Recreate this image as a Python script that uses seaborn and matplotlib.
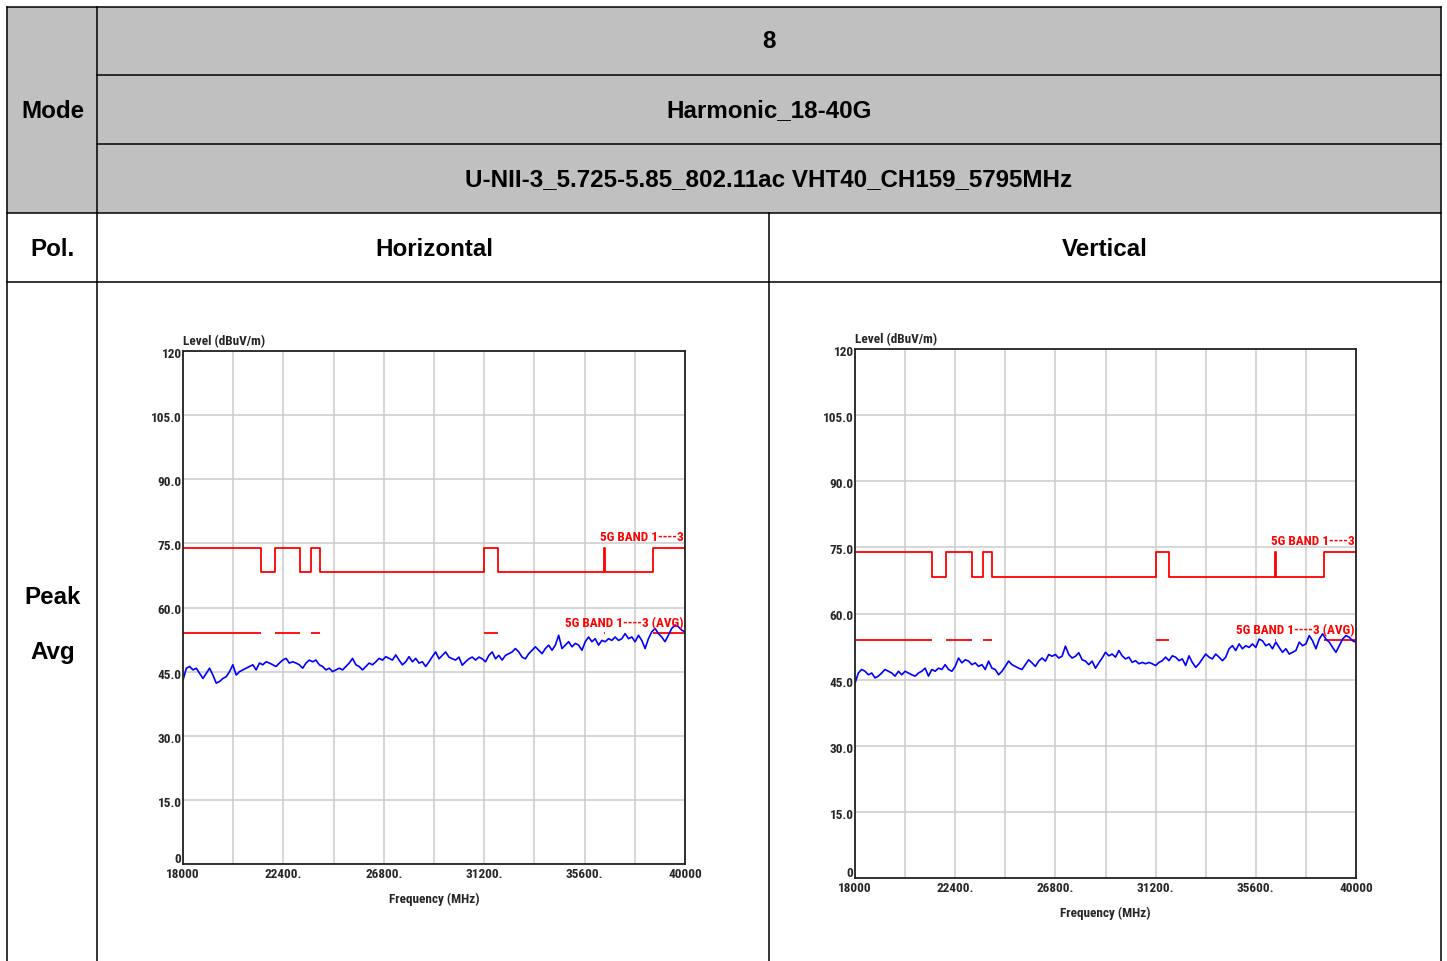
import numpy as np
import matplotlib
matplotlib.use("Agg")
import matplotlib.pyplot as plt
from matplotlib.patches import Rectangle
import matplotlib.transforms as mtransforms
import seaborn as sns

# ---- data ----
mode_rows = ["8", "Harmonic_18-40G", "U-NII-3_5.725-5.85_802.11ac VHT40_CH159_5795MHz"]
pol_names = ["Horizontal", "Vertical"]
detectors = ["Peak", "Avg"]

freq_start, freq_stop = 18000, 40000
x_ticks = [18000, 20200, 22400, 24600, 26800, 29000, 31200, 33400, 35600, 37800, 40000]
x_tick_labels = ["18000", "", "22400.", "", "26800.", "", "31200.", "", "35600.", "", "40000"]
y_ticks = [0, 15, 30, 45, 60, 75, 90, 105, 120]
y_tick_labels = ["0", "15.0", "30.0", "45.0", "60.0", "75.0", "90.0", "105.0", "120"]

restricted_bands = [(18000, 21400), (22010, 23120), (23600, 24000),
                    (31200, 31800), (36430, 36500), (38600, 40000)]
peak_limit_restricted = 74.0
peak_limit_other = 68.2
avg_limit = 54.0

level_horizontal = [
    43.0, 45.8, 46.2, 45.4, 45.8, 44.6, 43.4, 44.6, 45.8, 44.2, 42.3, 42.7, 43.4, 43.8, 45.0, 46.6,
    44.2, 45.0, 45.4, 45.8, 46.2, 46.6, 45.4, 47.0, 46.6, 47.3, 47.0, 46.6, 46.2, 47.0, 47.7, 48.1,
    47.0, 47.3, 47.0, 46.6, 45.8, 47.0, 47.7, 47.3, 47.7, 46.6, 46.2, 45.4, 45.8, 45.0, 45.4, 45.8,
    45.4, 46.2, 47.0, 48.1, 46.6, 46.2, 45.4, 46.2, 47.0, 46.6, 47.3, 48.1, 47.7, 48.5, 48.1, 47.7,
    48.9, 47.7, 46.6, 47.3, 48.5, 47.3, 48.1, 47.0, 47.3, 46.2, 47.3, 48.5,
    49.6, 48.0, 48.8, 49.6, 48.4, 48.0, 47.7, 48.4, 46.5, 47.3, 48.0, 48.4, 47.7, 48.4, 48.0, 47.3,
    48.8, 49.6, 48.0, 48.8, 47.7, 48.8, 49.2, 49.6, 50.4, 49.6, 48.4, 48.0, 49.2, 50.0, 50.8, 50.0,
    49.2, 50.4, 51.2, 50.0, 51.2, 53.5, 50.4, 51.2, 52.0, 50.8, 51.6, 51.2, 50.0, 52.0, 53.1, 52.0,
    52.7, 51.2, 52.3, 52.0, 52.7, 52.3, 53.1, 52.3, 52.7, 53.9, 52.7, 53.1, 52.0, 53.5, 52.3, 50.4,
    52.7, 54.3, 55.1, 53.9, 53.1, 52.0, 53.5, 55.1, 55.9, 55.5, 54.7, 54.3,
]

level_vertical = [
    44.2, 46.5, 47.3, 46.9, 46.1, 46.5, 45.4, 45.8, 46.5, 47.3, 46.9, 46.5, 45.8, 46.9, 46.1, 46.9,
    46.5, 46.1, 45.8, 46.5, 46.9, 47.6, 45.8, 47.3, 46.9, 47.6, 47.3, 48.4, 47.3, 46.9, 48.0, 49.9,
    48.8, 49.5, 49.2, 48.4, 48.8, 48.0, 48.4, 47.3, 49.2, 47.6, 47.3, 46.1, 46.9, 48.0, 49.2, 48.4,
    48.0, 47.6, 47.3, 48.4, 49.5, 48.8, 48.0, 49.2, 49.9, 49.2, 50.7, 50.3, 50.7, 49.9, 50.3, 52.6,
    50.7, 49.9, 50.3, 51.1, 49.5, 49.2, 48.4, 49.2, 47.6, 48.8, 49.9,
    51.2, 50.4, 50.8, 50.1, 51.6, 50.4, 49.7, 50.1, 48.9, 49.3, 48.6, 48.9, 48.6, 48.9, 48.6, 48.2,
    48.9, 49.3, 50.1, 49.3, 50.4, 50.1, 49.3, 49.7, 48.2, 50.4, 48.9, 47.8, 48.6, 49.7, 50.8, 50.1,
    49.7, 50.8, 50.1, 49.3, 50.1, 52.0, 52.7, 51.6, 53.1, 52.0, 52.7, 52.3, 53.1, 52.3, 54.2, 53.8,
    52.7, 53.1, 52.0, 53.5, 52.3, 51.2, 52.0, 50.8, 51.2, 51.6, 53.5, 52.7, 53.1, 55.0, 53.8, 52.0,
    54.2, 55.4, 54.2, 53.5, 52.3, 51.2, 52.7, 54.2, 55.0, 54.6, 53.8, 53.5,
]

W, H = 1447, 961
HEAD_FONT = ["Liberation Sans", "DejaVu Sans"]
CHART_FONT = ["Roboto Condensed", "DejaVu Sans"]
GRAY = "#C0C0C0"

sns.set_style("white")
plt.rcParams["font.family"] = HEAD_FONT

fig = plt.figure(figsize=(W / 100, H / 100), dpi=100)

# ---- table frame drawn in pixel coordinates ----
tab = fig.add_axes([0, 0, 1, 1], zorder=0)
tab.set_xlim(0, W)
tab.set_ylim(H, 0)
tab.axis("off")

tab.add_patch(Rectangle((7, 7), 1434, 206, facecolor=GRAY, edgecolor="none"))

rules = [
    ((7, 7), (7, 961)), ((1441, 1441), (7, 961)), ((97, 97), (7, 961)), ((769, 769), (213, 961)),
    ((7, 1441), (7, 7)), ((97, 1441), (75, 75)), ((97, 1441), (144, 144)),
    ((7, 1441), (213, 213)), ((7, 1441), (282, 282)),
]
for xs, ys in rules:
    tab.plot(xs, ys, color="black", lw=1.1, solid_capstyle="projecting")

head_kw = dict(ha="center", va="center", fontsize=17.4, fontweight="bold", color="black")
for txt, yc in zip(mode_rows, [42, 111, 180]):
    tab.text(769, yc, txt, **head_kw)
tab.text(53, 111, "Mode", **head_kw)
tab.text(53, 249, "Pol.", **head_kw)
tab.text(434, 249, pol_names[0], **head_kw)
tab.text(1105, 249, pol_names[1], **head_kw)
tab.text(53, 598, detectors[0], **head_kw)
tab.text(53, 652, detectors[1], **head_kw)


def limit_steps():
    xs, ys = [], []
    for lo, hi in restricted_bands:
        xs += [lo, hi]
        ys += [peak_limit_restricted, peak_limit_other]
    ys[-1] = peak_limit_restricted
    return xs, ys


def draw_panel(rect, levels):
    ax = fig.add_axes(rect, zorder=2)
    freqs = np.linspace(freq_start, freq_stop, len(levels))

    lx, ly = limit_steps()
    sns.lineplot(x=lx, y=ly, ax=ax, color="#FF0000", lw=1.3, drawstyle="steps-post",
                 estimator=None, sort=False, zorder=3)
    for lo, hi in restricted_bands:
        ax.hlines(avg_limit, lo, hi, color="#FF0000", lw=1.3, zorder=3)
    sns.lineplot(x=freqs, y=levels, ax=ax, color="#0000FF", lw=1.2,
                 estimator=None, sort=False, zorder=4)

    tick_kw = dict(family=CHART_FONT, fontsize=9.5, fontweight="bold")
    ax.set_xlim(freq_start, freq_stop)
    ax.set_ylim(0, 120)
    ax.set_xticks(x_ticks)
    ax.set_xticklabels(x_tick_labels, **tick_kw)
    ax.set_yticks(y_ticks)
    ax.set_yticklabels(y_tick_labels, **tick_kw)
    ax.tick_params(length=0)
    ax.tick_params(axis="x", pad=3)
    ax.tick_params(axis="y", pad=1)
    shift = mtransforms.ScaledTranslation(0, -2 / 100, fig.dpi_scale_trans)
    for lab in ax.get_yticklabels():
        lab.set_transform(lab.get_transform() + shift)
    ax.get_yticklabels()[0].set_va("bottom")
    ax.grid(True, color="#CCCCCC", lw=1.1)
    for s in ax.spines.values():
        s.set_color("#222222")
        s.set_linewidth(1.3)
        s.set_zorder(5)

    ax.set_xlabel("Frequency (MHz)", labelpad=8, **tick_kw)
    ax.set_ylabel("")
    ax.text(0.0, 1.006, "Level (dBuV/m)", transform=ax.transAxes, ha="left", va="bottom",
            **tick_kw)
    ax.text(39950, 74.8, "5G BAND 1----3", ha="right", va="bottom", color="#FF0000",
            zorder=6, **tick_kw)
    ax.text(39950, 54.6, "5G BAND 1----3 (AVG)", ha="right", va="bottom", color="#FF0000",
            zorder=6, **tick_kw)
    return ax


draw_panel([183 / W, 1 - 864 / H, 502 / W, 513 / H], level_horizontal)
draw_panel([855 / W, 1 - 878 / H, 501 / W, 529 / H], level_vertical)

fig.savefig("out.png", dpi=100)
plt.close(fig)
